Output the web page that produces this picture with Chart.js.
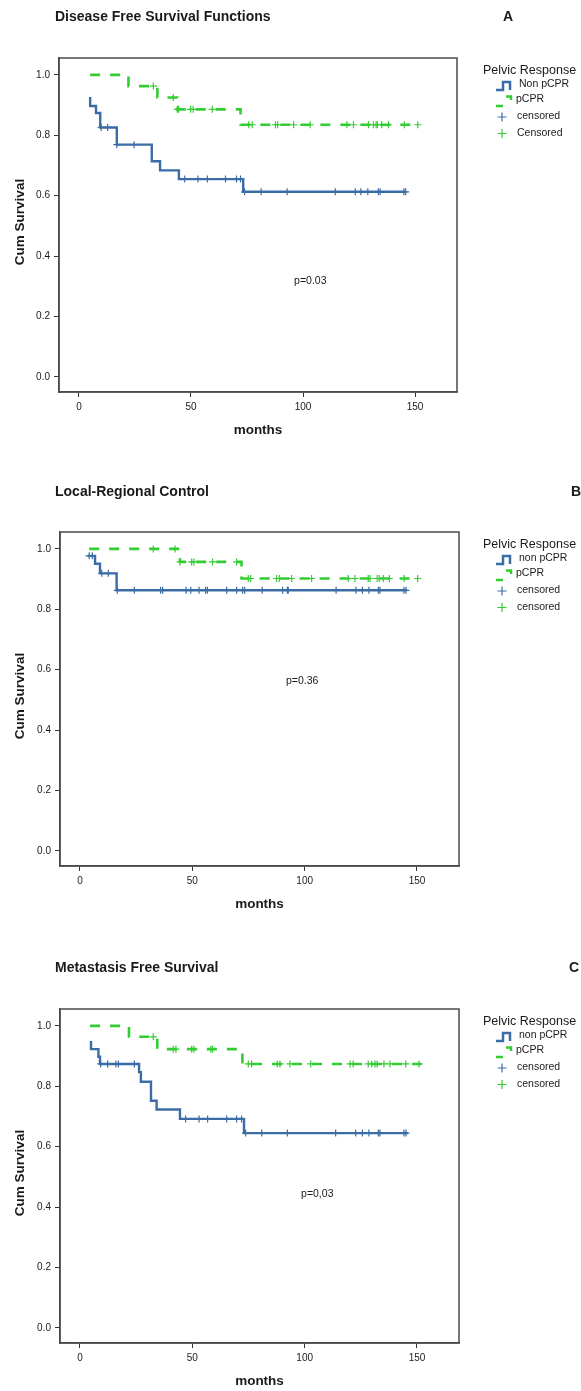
<!DOCTYPE html>
<html>
<head>
<meta charset="utf-8">
<script src="https://cdn.jsdelivr.net/npm/chart.js@4/dist/chart.umd.min.js"></script>
<style>
  html, body { margin: 0; padding: 0; background: #fff; overflow: hidden; }
  body { width: 581px; height: 1391px; position: relative; }
  canvas { position: absolute; left: 0; }
</style>
</head>
<body>
<canvas id="cA" width="581" height="440" style="top:0px"></canvas>
<canvas id="cB" width="581" height="440" style="top:474px"></canvas>
<canvas id="cC" width="581" height="440" style="top:951px"></canvas>
<script>
// ---------------- DATA ----------------
const xTicks = [0, 50, 100, 150];
const yTicks = [0.0, 0.2, 0.4, 0.6, 0.8, 1.0];

// Panel A – Disease Free Survival
const aNonTimes = [5, 5, 7.6, 9.5, 16.9, 32.5, 36.2, 44.6, 73.3, 145.8];
const aNonSurv  = [0.927, 0.897, 0.874, 0.826, 0.769, 0.714, 0.684, 0.655, 0.613, 0.613];
const aNonCens  = [9.9, 12.8, 16.9, 24.6, 47.2, 53.1, 57.3, 65.4, 70.3, 72.1, 73.9, 81.3, 92.9, 114.4, 123.3, 125.8, 128.9, 133.6, 134.4, 145, 145.8];
const aPcTimes  = [5, 22.1, 35.0, 43.9, 72.1, 151.2];
const aPcSurv   = [1.0, 0.963, 0.925, 0.886, 0.835, 0.835];
const aPcCens   = [33.2, 42.1, 43.9, 44.4, 49.8, 51.0, 59.5, 75.8, 77.3, 87.7, 88.7, 95.8, 103.2, 119.6, 122.5, 129.2, 131.4, 132.6, 133.2, 135.1, 138.1, 145.2, 151.2];

// Panel B – Local-Regional Control
const bNonTimes = [3.4, 6.7, 8.9, 16.3, 145.4];
const bNonSurv  = [0.977, 0.951, 0.919, 0.863, 0.863];
const bNonCens  = [4.1, 5.5, 9.7, 12.6, 16.6, 24.2, 35.9, 36.8, 47.2, 49.3, 53, 55.9, 56.7, 65.3, 69.7, 72.4, 73.3, 81.1, 90.2, 92.3, 92.7, 114, 122.8, 125.7, 128.6, 132.8, 133.5, 144.2, 145.1];
const bPcTimes  = [4.1, 44.5, 71.9, 150.3];
const bPcSurv   = [1.0, 0.957, 0.902, 0.902];
const bPcCens   = [32.6, 42.3, 44.5, 49.7, 50.7, 59, 69.7, 74.9, 76, 87.5, 88.7, 94.2, 103.1, 119.4, 122.4, 128.3, 129.1, 132.3, 133.2, 135, 137.7, 144.3, 150.3];

// Panel C – Metastasis Free Survival
const cNonTimes = [4.9, 4.9, 8.2, 8.9, 26.3, 27.1, 31.6, 34.1, 44.5, 73, 146];
const cNonSurv  = [0.950, 0.923, 0.898, 0.874, 0.847, 0.815, 0.752, 0.723, 0.692, 0.645, 0.645];
const cNonCens  = [9.2, 12.3, 16, 17.1, 24.2, 47, 53, 56.8, 65.3, 69.7, 71.9, 73.7, 80.9, 92.3, 113.8, 122.7, 125.7, 128.6, 132.8, 133.5, 144.2, 145.1];
const cPcTimes  = [4.5, 21.8, 34.4, 72.3, 152];
const cPcSurv   = [1.0, 0.964, 0.923, 0.874, 0.874];
const cPcCens   = [32.6, 41.5, 42.7, 49.7, 50.7, 58.2, 59, 74.9, 76.4, 87.8, 89, 93.5, 102.7, 120.2, 121.6, 128.3, 129.8, 131.3, 132.3, 135.3, 138, 145, 150.9];

const titles  = ["Disease Free Survival Functions", "Local-Regional Control", "Metastasis Free Survival"];
const letters = ["A", "B", "C"];
const legendTitle = "Pelvic Response";
const legendLabelsA = ["Non pCPR", "pCPR", "censored", "Censored"];
const legendLabelsBC = ["non pCPR", "pCPR", "censored", "censored"];
const pTexts = ["p=0.03", "p=0.36", "p=0,03"];
const pPosX = [96, 91.7, 98.4];
const pPosY = [0.317, 0.562, 0.442];

// ---------------- STYLE ----------------
const BLUE = '#3b6ca6';
const GREEN = '#33cc33';
const FONT = '"Liberation Sans", Arial, Helvetica, sans-serif';
const TEXT = '#1a1a1a';

function pts(t, s) { return t.map((v, i) => ({x: v, y: s[i]})); }
function levelAt(t, s, x) {
  let v = s[0];
  for (let i = 0; i < t.length; i++) { if (t[i] <= x + 1e-9) v = s[i]; }
  return v;
}
function censPts(cens, t, s) { return cens.map(c => ({x: c, y: levelAt(t, s, c)})); }

const deco = {
  id: 'deco',
  afterDraw(chart) {
    const o = chart.options.plugins.deco;
    const ctx = chart.ctx;
    const a = chart.chartArea;
    ctx.save();
    // box
    ctx.strokeStyle = '#4a4a4a';
    ctx.lineWidth = 1.5;
    ctx.strokeRect(a.left, a.top, a.right - a.left, a.bottom - a.top);
    // title
    ctx.fillStyle = TEXT;
    ctx.textBaseline = 'middle';
    ctx.textAlign = 'left';
    ctx.font = 'bold 14px ' + FONT;
    ctx.fillText(o.title, 55, o.titleY);
    ctx.fillText(o.letter, o.letterX, o.titleY);
    // axis titles
    ctx.font = 'bold 13.5px ' + FONT;
    ctx.textAlign = 'center';
    ctx.fillText('months', (a.left + a.right) / 2, 430);
    ctx.save();
    ctx.translate(20, (a.top + a.bottom) / 2 - 3);
    ctx.rotate(-Math.PI / 2);
    ctx.fillText('Cum Survival', 0, 0);
    ctx.restore();
    // p value
    const xs = chart.scales.x, ys = chart.scales.y;
    ctx.font = '10.5px ' + FONT;
    ctx.textAlign = 'left';
    ctx.fillText(o.p, xs.getPixelForValue(o.px), ys.getPixelForValue(o.py));
    // legend
    ctx.font = '12.5px ' + FONT;
    ctx.fillText(legendTitle, 483, 71);
    ctx.font = '10.5px ' + FONT;
    ctx.fillText(o.labels[0], 519, 84.5);
    ctx.fillText(o.labels[1], 516, 99.5);
    ctx.fillText(o.labels[2], 517, 116.5);
    ctx.fillText(o.labels[3], 517, 133);
    ctx.lineCap = 'butt';
    ctx.lineWidth = 2.5;
    ctx.strokeStyle = BLUE;
    ctx.beginPath();
    ctx.moveTo(496, 90); ctx.lineTo(503, 90); ctx.lineTo(503, 82); ctx.lineTo(510, 82); ctx.lineTo(510, 90);
    ctx.stroke();
    ctx.strokeStyle = GREEN;
    ctx.beginPath();
    ctx.moveTo(506, 96.5); ctx.lineTo(511, 96.5); ctx.lineTo(511, 100);
    ctx.moveTo(496, 106); ctx.lineTo(503, 106);
    ctx.stroke();
    ctx.lineWidth = 1.2;
    ctx.strokeStyle = BLUE;
    ctx.beginPath();
    ctx.moveTo(497.5, 117); ctx.lineTo(506.5, 117); ctx.moveTo(502, 112.5); ctx.lineTo(502, 121.5);
    ctx.stroke();
    ctx.strokeStyle = GREEN;
    ctx.beginPath();
    ctx.moveTo(497.5, 133.5); ctx.lineTo(506.5, 133.5); ctx.moveTo(502, 129); ctx.lineTo(502, 138);
    ctx.stroke();
    ctx.restore();
  }
};

function makeChart(id, idx, nonT, nonS, nonC, pcT, pcS, pcC, labels, opts) {
  return new Chart(document.getElementById(id), {
    type: 'line',
    data: {
      datasets: [
        { data: pts(nonT, nonS), borderColor: BLUE, borderWidth: 2.4, stepped: 'before', pointRadius: 0, fill: false, order: 3 },
        { data: pts(pcT, pcS), borderColor: GREEN, borderWidth: 2.6, borderDash: [10, 10], stepped: 'before', pointRadius: 0, fill: false, order: 2 },
        { data: censPts(nonC, nonT, nonS), showLine: false, pointStyle: 'cross', pointRadius: 3.5, pointBorderWidth: 1.2, pointBorderColor: BLUE, borderColor: BLUE, order: 1 },
        { data: censPts(pcC, pcT, pcS), showLine: false, pointStyle: 'cross', pointRadius: 3.5, pointBorderWidth: 1.2, pointBorderColor: GREEN, borderColor: GREEN, order: 0 }
      ]
    },
    options: {
      responsive: false,
      animation: false,
      events: [],
      layout: { padding: { left: opts.left - 41, right: 581 - opts.right, top: 58, bottom: 440 - 392 - 40 } },
      plugins: {
        legend: { display: false },
        tooltip: { enabled: false },
        title: { display: false },
        deco: { title: titles[idx], letter: letters[idx], letterX: opts.letterX, titleY: opts.titleY, labels: labels, p: pTexts[idx], px: pPosX[idx], py: pPosY[idx] }
      },
      scales: {
        x: {
          type: 'linear', min: -8.9, max: 168.7,
          afterBuildTicks: s => { s.ticks = xTicks.map(v => ({value: v})); },
          afterFit: s => { s.height = 40; },
          ticks: { color: TEXT, font: { family: FONT, size: 10 }, padding: 4, maxRotation: 0, callback: v => String(v) },
          grid: { drawOnChartArea: false, drawTicks: true, tickLength: 5, tickColor: '#333', tickWidth: 1 },
          border: { display: true, color: '#4a4a4a', width: 1.5 }
        },
        y: {
          type: 'linear', min: -0.05, max: 1.056,
          afterBuildTicks: s => { s.ticks = yTicks.map(v => ({value: v})); },
          afterFit: s => { s.width = 41; },
          ticks: { color: TEXT, font: { family: FONT, size: 10 }, padding: 4, callback: v => Number(v).toFixed(1) },
          grid: { drawOnChartArea: false, drawTicks: true, tickLength: 5, tickColor: '#333', tickWidth: 1 },
          border: { display: true, color: '#4a4a4a', width: 1.5 }
        }
      }
    },
    plugins: [deco]
  });
}

makeChart('cA', 0, aNonTimes, aNonSurv, aNonCens, aPcTimes, aPcSurv, aPcCens, legendLabelsA, { left: 59, right: 457, letterX: 503, titleY: 17 });
makeChart('cB', 1, bNonTimes, bNonSurv, bNonCens, bPcTimes, bPcSurv, bPcCens, legendLabelsBC, { left: 60, right: 459, letterX: 571, titleY: 18 });
makeChart('cC', 2, cNonTimes, cNonSurv, cNonCens, cPcTimes, cPcSurv, cPcCens, legendLabelsBC, { left: 60, right: 459, letterX: 569, titleY: 17 });
</script>
</body>
</html>
